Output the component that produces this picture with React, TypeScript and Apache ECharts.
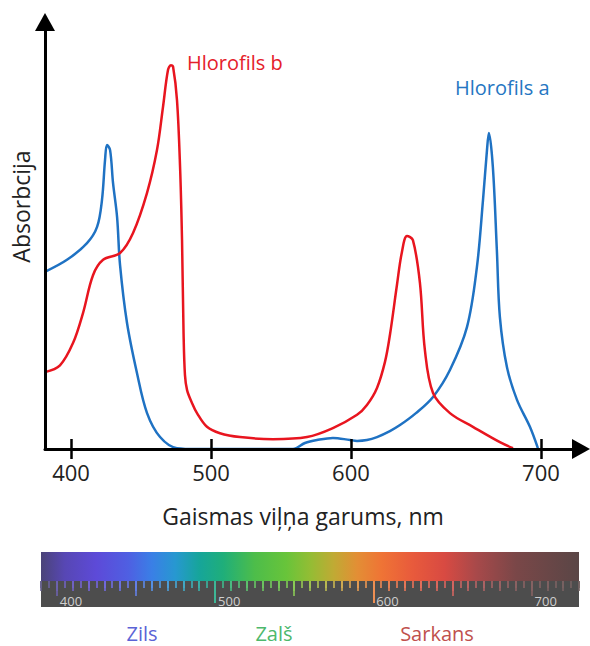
import { useEffect, useRef } from 'react';
import * as echarts from 'echarts';

// ---- axis (stylised: the 600-700 decade is drawn wider than the others) ----
const AXIS_WL = [400, 500, 600, 700];
const AXIS_POS = [400, 500, 600, 735.7];
const X_MIN_WL = 381.4;
const X_MAX_WL = 721.1;

// ---- chlorophyll a (blue) ----
const BLUE_WL = [381.4, 397.1, 411.4, 418.6, 422.1, 424.3, 425.7, 427.9, 430.0, 432.9, 435.0, 440.0, 447.1, 454.3, 463.6, 475.7, 490.0, 558.6, 567.1, 575.7, 587.1, 599.3, 603.2, 608.4, 613.7, 620.5, 625.8, 634.2, 643.2, 652.1, 661.1, 666.3, 669.5, 671.6, 672.6, 674.7, 676.8, 678.4, 682.1, 687.4, 694.2, 698.4];
const BLUE_ABS = [41.5, 44.3, 48.2, 52.0, 58.3, 67.7, 71.2, 70.0, 62.3, 54.3, 43.1, 29.5, 17.8, 8.4, 2.8, 0.2, 0, 0, 1.4, 2.1, 2.6, 2.1, 1.9, 2.1, 2.8, 4.2, 5.6, 8.4, 12.2, 18.5, 28.6, 42.6, 58.3, 70.0, 74.0, 66.0, 46.6, 30.9, 19.2, 11.5, 5.2, 0.2];

// ---- chlorophyll b (red) ----
const RED_WL = [381.4, 392.1, 401.4, 408.6, 415.7, 422.9, 435.0, 444.3, 454.3, 461.4, 465.7, 469.3, 471.4, 472.9, 475.7, 477.9, 479.3, 480.4, 481.4, 482.9, 486.4, 490.0, 497.1, 506.4, 520.7, 544.3, 568.6, 587.1, 603.2, 608.4, 613.7, 617.9, 620.5, 624.2, 626.8, 629.5, 632.6, 636.3, 638.9, 643.2, 652.1, 664.2, 678.4, 685.3];
const RED_ABS = [18.0, 19.6, 24.8, 31.9, 40.7, 44.3, 45.9, 50.6, 60.0, 70.0, 80.1, 88.8, 89.9, 89.5, 81.7, 66.0, 48.9, 27.0, 17.3, 13.8, 10.8, 8.4, 5.2, 3.7, 2.8, 2.3, 2.8, 4.9, 8.0, 10.3, 14.3, 20.4, 26.7, 38.4, 46.1, 49.9, 48.9, 38.9, 23.2, 13.1, 8.4, 5.2, 1.6, 0.2];

// ---- spectrum strip ----
const SPEC_MIN = 390;
const SPEC_MAX = 730;
const SPEC_LABELS = [400, 500, 600, 700];
const SPEC_MID_TICKS = [400, 450, 550, 650, 700];
const SPEC_LONG_TICKS = [500, 600];
const SPEC_WL = [390, 405, 425, 445, 460, 475, 490, 505, 525, 545, 560, 575, 590, 605, 625, 645, 665, 690, 730];
const SPEC_COLORS = ['#4b4478', '#5747b4', '#5d4ad8', '#4f5fe2', '#3a7fe6', '#2798d0', '#16a59a', '#1fae7a', '#4dbd4a', '#68c43a', '#93bd34', '#c0aa34', '#e38e35', '#ef7435', '#e85a3c', '#d84a42', '#a8494a', '#7a4748', '#5a4646'];

const X_NAME = 'Gaismas viļņa garums, nm';
const Y_NAME = 'Absorbcija';
const SERIES_NAMES = ['Hlorofils a', 'Hlorofils b'];
const BAND_NAMES = ['Zils', 'Zalš', 'Sarkans'];

const FONT = '"Open Sans", "Noto Sans", sans-serif';
const BLUE = '#1f72c3';
const RED = '#e8151f';

function toPos(wl: number): number {
  let i = 0;
  while (i < AXIS_WL.length - 2 && wl > AXIS_WL[i + 1]) i++;
  const t = (wl - AXIS_WL[i]) / (AXIS_WL[i + 1] - AXIS_WL[i]);
  return AXIS_POS[i] + t * (AXIS_POS[i + 1] - AXIS_POS[i]);
}

function labelFor(v: number): string {
  let best = 0;
  for (let i = 1; i < AXIS_POS.length; i++) {
    if (Math.abs(AXIS_POS[i] - v) < Math.abs(AXIS_POS[best] - v)) best = i;
  }
  return String(AXIS_WL[best]);
}

function lighten(c: string, level: number): string {
  const api = (echarts as any).color;
  return api && typeof api.lift === 'function' ? api.lift(c, level) : c;
}

function buildOption() {
  const tickPos = AXIS_WL.map(toPos);
  const xMin = toPos(X_MIN_WL);
  const xMax = toPos(X_MAX_WL);
  const stops = SPEC_WL.map((w, i) => ({ offset: (w - SPEC_MIN) / (SPEC_MAX - SPEC_MIN), color: SPEC_COLORS[i] }));
  const stripLeft = 41;
  const stripWidth = 538;
  const tickGrad = {
    type: 'linear', x: stripLeft, y: 0, x2: stripLeft + stripWidth, y2: 0, global: true,
    colorStops: stops.map((s) => ({ offset: s.offset, color: lighten(s.color, 0.15) })),
  };
  const specAxisBase = {
    gridIndex: 1, type: 'value', position: 'top', min: SPEC_MIN, max: SPEC_MAX,
    axisLine: { show: false, onZero: false }, splitLine: { show: false }, axisLabel: { show: false },
  };
  const mainXBase = {
    gridIndex: 0, type: 'value', position: 'bottom', min: xMin, max: xMax, z: 3,
    splitLine: { show: false },
  };
  const textStyle = (text: string, x: number, y: number, fill: string, size: number, align: string) => ({
    text, x, y, fill, font: `${size}px ${FONT}`,
    textAlign: align, textVerticalAlign: 'middle', align, verticalAlign: 'middle',
  });

  return {
    animation: false,
    backgroundColor: '#ffffff',
    grid: [
      { left: 45, right: 9, top: 22, bottom: 197 },
      { left: stripLeft, width: stripWidth, top: 581, height: 26, show: true, backgroundColor: '#4d4d4d', borderWidth: 0 },
    ],
    xAxis: [
      {
        ...mainXBase,
        axisLine: { show: true, onZero: false, symbol: ['none', 'triangle'], symbolSize: [20, 18], lineStyle: { color: '#000', width: 3 } },
        axisTick: { show: true, inside: true, length: 10, customValues: tickPos, lineStyle: { color: '#000', width: 2.5 } },
        axisLabel: { show: true, customValues: tickPos, formatter: (v: number) => labelFor(v), margin: 12, fontSize: 22, color: '#222', fontFamily: FONT },
        name: X_NAME, nameLocation: 'middle', nameGap: 55,
        nameTextStyle: { fontSize: 23, color: '#222', fontFamily: FONT, padding: [0, 20, 0, 0] },
      },
      {
        ...mainXBase,
        axisLine: { show: false, onZero: false },
        axisTick: { show: true, inside: false, length: 10, customValues: tickPos, lineStyle: { color: '#000', width: 2.5 } },
        axisLabel: { show: false },
      },
      {
        ...specAxisBase, interval: 5,
        axisTick: { show: true, inside: true, length: 7, lineStyle: { color: tickGrad, width: 1.6 } },
      },
      {
        ...specAxisBase, interval: 10,
        axisTick: { show: true, inside: true, length: 10, lineStyle: { color: tickGrad, width: 1.6 } },
      },
      {
        ...specAxisBase,
        axisTick: { show: true, inside: true, length: 15, customValues: SPEC_MID_TICKS, lineStyle: { color: tickGrad, width: 1.6 } },
      },
      {
        ...specAxisBase,
        axisTick: { show: true, inside: true, length: 22, customValues: SPEC_LONG_TICKS, lineStyle: { color: tickGrad, width: 2 } },
        axisLabel: {
          show: true, inside: true, customValues: SPEC_LABELS, align: 'left', margin: 13,
          color: '#cfcfcf', fontSize: 13, fontFamily: FONT, padding: [0, 0, 0, 3],
        },
      },
    ],
    yAxis: [
      {
        gridIndex: 0, type: 'value', min: 0, max: 100, z: 3,
        axisLine: { show: true, onZero: false, symbol: ['none', 'triangle'], symbolSize: [20, 18], lineStyle: { color: '#000', width: 3 } },
        axisTick: { show: false }, axisLabel: { show: false }, splitLine: { show: false },
        name: Y_NAME, nameLocation: 'middle', nameGap: 13, nameRotate: 90,
        nameTextStyle: { fontSize: 23, color: '#222', fontFamily: FONT, padding: [0, 0, 0, 58] },
      },
      { gridIndex: 1, type: 'value', min: 0, max: 1, show: false },
    ],
    series: [
      {
        type: 'line', name: SERIES_NAMES[0], xAxisIndex: 0, yAxisIndex: 0, z: 2, silent: true,
        data: BLUE_WL.map((w, i) => [toPos(w), BLUE_ABS[i]]),
        showSymbol: false, smooth: 0.35,
        lineStyle: { color: BLUE, width: 2.5 }, itemStyle: { color: BLUE },
      },
      {
        type: 'line', name: SERIES_NAMES[1], xAxisIndex: 0, yAxisIndex: 0, z: 2, silent: true,
        data: RED_WL.map((w, i) => [toPos(w), RED_ABS[i]]),
        showSymbol: false, smooth: 0.35,
        lineStyle: { color: RED, width: 2.5 }, itemStyle: { color: RED },
      },
    ],
    graphic: [
      {
        type: 'rect', silent: true,
        shape: { x: stripLeft, y: 552, width: stripWidth, height: 29 },
        style: { fill: { type: 'linear', x: 0, y: 0, x2: 1, y2: 0, colorStops: stops } },
      },
      { type: 'text', silent: true, style: textStyle(SERIES_NAMES[1], 187, 62, '#e5202a', 20, 'left') },
      { type: 'text', silent: true, style: textStyle(SERIES_NAMES[0], 455, 87, '#2576c2', 20, 'left') },
      { type: 'text', silent: true, style: textStyle(BAND_NAMES[0], 142, 633, '#5b63d6', 20, 'center') },
      { type: 'text', silent: true, style: textStyle(BAND_NAMES[1], 274, 633, '#4db86c', 20, 'center') },
      { type: 'text', silent: true, style: textStyle(BAND_NAMES[2], 437, 633, '#c0504d', 20, 'center') },
    ],
  };
}

export default function App() {
  const ref = useRef<HTMLDivElement>(null);
  useEffect(() => {
    document.body.style.margin = '0';
    const chart = echarts.init(ref.current as HTMLDivElement, null, { renderer: 'svg' });
    chart.setOption(buildOption() as any);
    return () => chart.dispose();
  }, []);
  return <div ref={ref} style={{ width: 590, height: 646 }} />;
}
